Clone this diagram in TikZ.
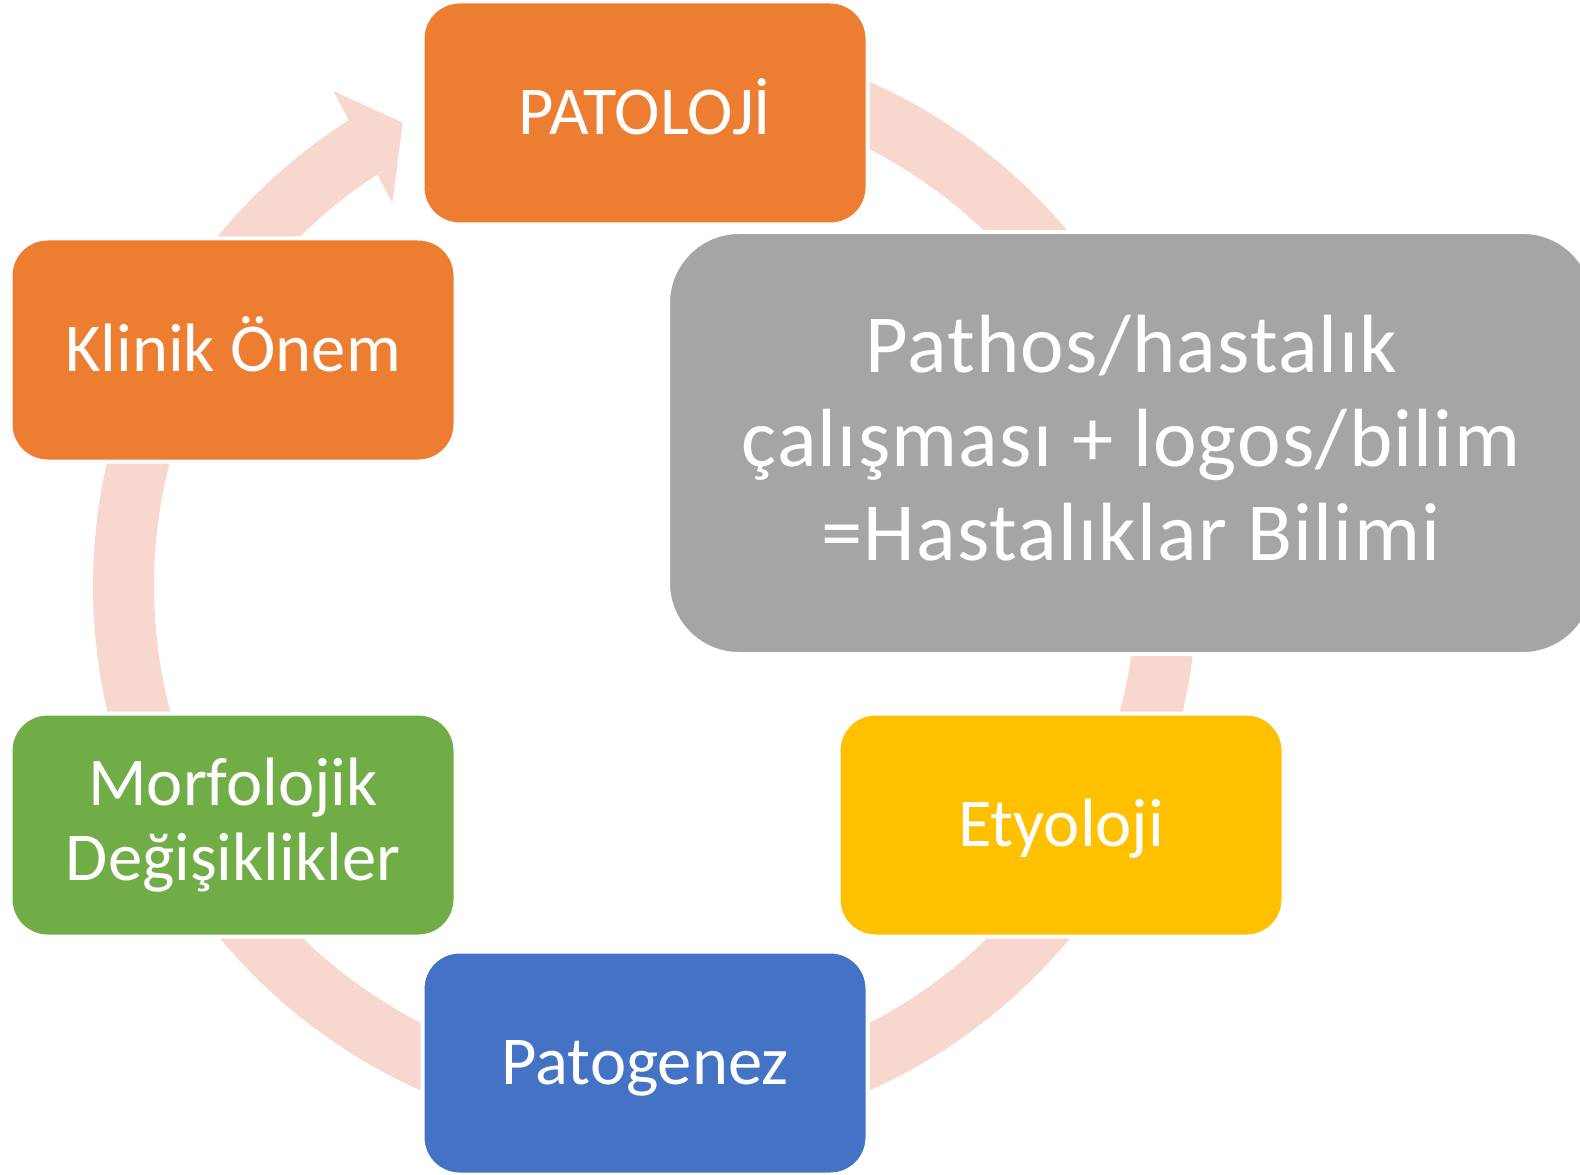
\documentclass[tikz,border=0pt]{standalone}
\usepackage{fontspec}
\setmainfont{Carlito}
\definecolor{turuncu}{HTML}{ED7D31}
\definecolor{sari}{HTML}{FFC000}
\definecolor{mavi}{HTML}{4472C4}
\definecolor{yesil}{HTML}{70AD47}
\definecolor{gri}{HTML}{A5A5A5}
\definecolor{halka}{HTML}{F8D8CE}
\begin{document}
\begin{tikzpicture}
      \clip (0,0) rectangle (15.8,11.74);
      % circular band with its arrow head
      \begin{scope}[shift={(6.45,5.88)}]
      \coordinate (ctr) at (0,0);
      \draw[halka,line width=0.61cm] (95:5.215) arc[start angle=95,end angle=-238.2,radius=5.215];
      \fill[halka] (122.2:5.85) -- (117.6:5.23) -- (123.4:4.59) -- cycle;
      \end{scope}
      \begin{scope}[every node/.style={draw=white,line width=0.04cm,rounded corners=0.37cm,
          text=white,align=center,inner sep=0pt,minimum width=4.45cm,minimum height=2.23cm,
          text height=12.3pt,text depth=0pt,font=\fontsize{19.5}{21.5}\selectfont}]
      \node[fill=turuncu] (patoloji) at (6.45,10.61) {PATOLOJİ};
      \node[fill=turuncu] (klinik) at (2.33,8.24) {Klinik Önem};
      \node[fill=yesil,text height=,text depth=] (morfo) at (2.33,3.49) {Morfolojik\\Değişiklikler};
      \node[fill=mavi] (patogenez) at (6.45,1.11) {Patogenez};
      \node[fill=sari] (etyoloji) at (10.61,3.49) {Etyoloji};
      \end{scope}
      % the large definition box
      \node[draw=white,line width=0.04cm,fill=gri,text=white,align=center,inner sep=0pt,
          minimum width=9.26cm,minimum height=4.22cm,rounded corners=0.71cm,
          font=\fontsize{23.5}{26.7}\selectfont\addfontfeature{LetterSpace=1.5}] (tanim) at (11.31,7.31) {};
      \node[text=white,align=center,inner sep=0pt,
          font=\fontsize{23.5}{26.7}\selectfont\addfontfeature{LetterSpace=1.5}] (tanimyazi) at (11.31,7.36)
          {Pathos/hastalık\\çalışması + logos/bilim\\=Hastalıklar Bilimi};
\end{tikzpicture}
\end{document}
